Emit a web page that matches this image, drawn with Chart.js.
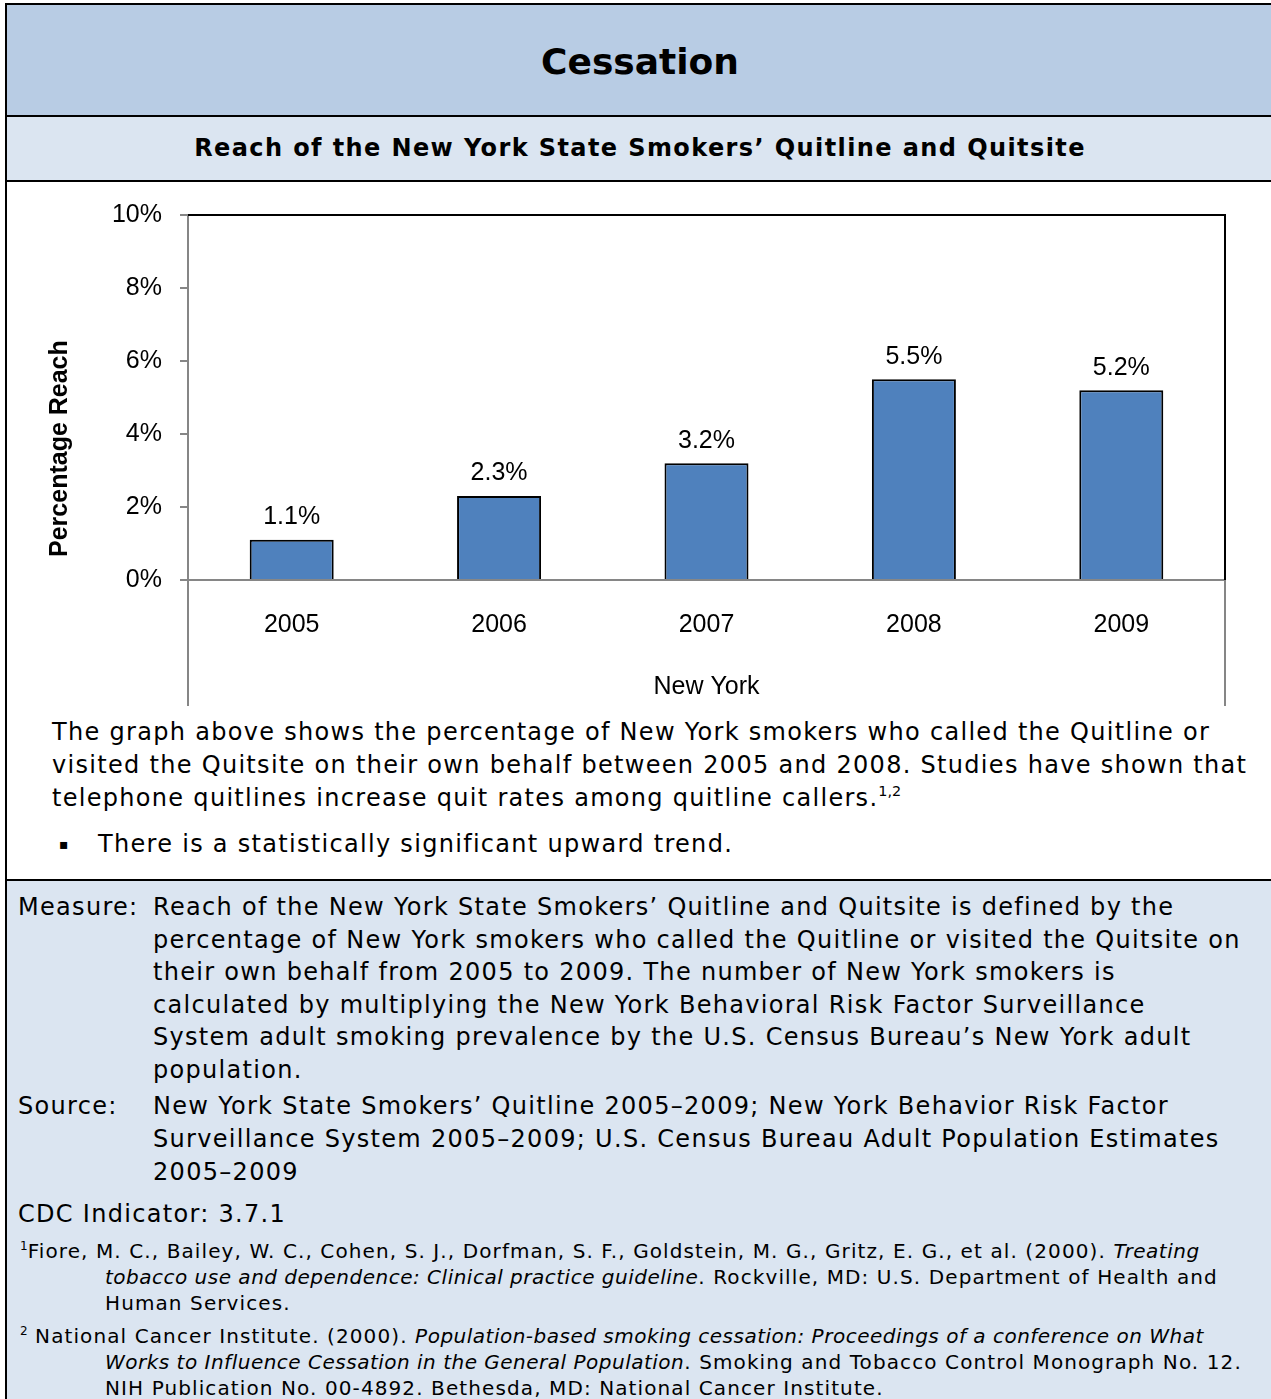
<!DOCTYPE html>
<html>
<head>
<meta charset="utf-8">
<script src="https://cdn.jsdelivr.net/npm/chart.js@4.4.1/dist/chart.umd.min.js"></script>
<style>
  body { margin: 0; width: 1271px; height: 1399px; overflow: hidden; background: #fff; position: relative; font-family: "DejaVu Sans", Verdana, sans-serif; color: #000; }
  .band { position: absolute; left: 5px; width: 1300px; border-left: 2px solid #000; border-top: 2px solid #000; }
  .txt { position: absolute; white-space: nowrap; }
  .body24 { font-size: 24px; line-height: 33px; letter-spacing: 1.3px; }
  .fn { font-size: 20px; line-height: 26px; letter-spacing: 1.1px; }
  .fn i { letter-spacing: 0.5px; }
  sup { font-size: 60%; line-height: 0; vertical-align: 0.7em; letter-spacing: 0; }
  #chartBox { position: absolute; left: 0; top: 182px; width: 1271px; height: 524px; }
</style>
</head>
<body>
<div class="band" style="top:3px;height:110px;background:#b8cce4;"></div>
<div class="band" style="top:115px;height:63px;background:#dbe5f1;"></div>
<div class="band" style="top:180px;height:697px;background:#fff;"></div>
<div class="band" style="top:879px;height:600px;background:#dbe5f1;"></div>

<div class="txt" style="left:0;width:1280px;text-align:center;top:40px;font-size:36px;font-weight:bold;line-height:44px;">Cessation</div>
<div class="txt" style="left:0;width:1280px;text-align:center;top:133px;font-size:24px;letter-spacing:1.4px;font-weight:bold;line-height:30px;">Reach of the New York State Smokers’ Quitline and Quitsite</div>

<div id="chartBox"><canvas id="myChart" width="1271" height="524"></canvas></div>

<div class="txt body24" style="left:52px;top:716px;">The graph above shows the percentage of New York smokers who called the Quitline or<br>visited the Quitsite on their own behalf between 2005 and 2008. Studies have shown that<br>telephone quitlines increase quit rates among quitline callers.<sup>1,2</sup></div>
<div class="txt body24" style="left:59px;top:828px;font-size:14px;">&#9642;</div>
<div class="txt body24" style="left:98px;top:828px;">There is a statistically significant upward trend.</div>

<div class="txt body24" style="left:18px;top:891px;">Measure:</div>
<div class="txt body24" style="left:153px;top:891px;line-height:32.5px;">Reach of the New York State Smokers’ Quitline and Quitsite is defined by the<br>percentage of New York smokers who called the Quitline or visited the Quitsite on<br>their own behalf from 2005 to 2009. The number of New York smokers is<br>calculated by multiplying the New York Behavioral Risk Factor Surveillance<br>System adult smoking prevalence by the U.S. Census Bureau’s New York adult<br>population.</div>
<div class="txt body24" style="left:18px;top:1090px;">Source:</div>
<div class="txt body24" style="left:153px;top:1090px;">New York State Smokers’ Quitline 2005–2009; New York Behavior Risk Factor<br>Surveillance System 2005–2009; U.S. Census Bureau Adult Population Estimates<br>2005–2009</div>
<div class="txt body24" style="left:18px;top:1198px;">CDC Indicator: 3.7.1</div>

<div class="txt fn" style="left:20px;top:1238px;"><sup>1</sup>Fiore, M. C., Bailey, W. C., Cohen, S. J., Dorfman, S. F., Goldstein, M. G., Gritz, E. G., et al. (2000). <i>Treating</i></div>
<div class="txt fn" style="left:105px;top:1264px;"><i>tobacco use and dependence: Clinical practice guideline</i>. Rockville, MD: U.S. Department of Health and<br>Human Services.</div>
<div class="txt fn" style="left:20px;top:1323px;"><sup>2</sup> National Cancer Institute. (2000). <i>Population-based smoking cessation: Proceedings of a conference on What</i></div>
<div class="txt fn" style="left:105px;top:1349px;"><i>Works to Influence Cessation in the General Population</i>. Smoking and Tobacco Control Monograph No. 12.<br>NIH Publication No. 00-4892. Bethesda, MD: National Cancer Institute.</div>

<script>
const years = ["2005", "2006", "2007", "2008", "2009"];
const reach = [1.1, 2.3, 3.2, 5.5, 5.2];
const yMin = 0;
const yMax = 10;
const yStep = 2;
const xTitle = "New York";
const yTitle = "Percentage Reach";

const chartFont = "'Liberation Sans', Arial, sans-serif";

// frame lines, y title and value labels
const decorations = {
    id: "decorations",
    afterDraw(chart) {
        const ctx = chart.ctx;
        const area = chart.chartArea;
        ctx.save();
        ctx.strokeStyle = "#000";
        ctx.lineWidth = 2;
        ctx.beginPath();
        ctx.moveTo(area.left, area.top);
        ctx.lineTo(area.right, area.top);
        ctx.lineTo(area.right, area.bottom);
        ctx.stroke();

        ctx.strokeStyle = "#868686";
        ctx.beginPath();
        ctx.moveTo(area.left, area.bottom);
        ctx.lineTo(area.left, chart.height);
        ctx.moveTo(area.right, area.bottom);
        ctx.lineTo(area.right, chart.height);
        ctx.stroke();

        ctx.fillStyle = "#000";
        ctx.font = "25px " + chartFont;
        ctx.textAlign = "center";
        ctx.textBaseline = "bottom";
        const meta = chart.getDatasetMeta(0);
        meta.data.forEach((bar, i) => {
            ctx.fillText(reach[i].toFixed(1) + "%", bar.x, bar.y - 10);
        });

        // y title sits a little below the middle of the axis, as in the original
        const yScale = chart.scales.y;
        ctx.font = "bold 25px " + chartFont;
        ctx.translate(60, yScale.getPixelForValue(3.6));
        ctx.rotate(-Math.PI / 2);
        ctx.textBaseline = "middle";
        ctx.fillText(yTitle, 0, 0);
        ctx.restore();
    }
};

new Chart(document.getElementById("myChart").getContext("2d"), {
    type: "bar",
    data: {
        labels: years,
        datasets: [
            {
                label: "Reach",
                data: reach,
                backgroundColor: "#4f81bd",
                borderColor: "#000",
                borderWidth: 2,
                barPercentage: 0.405,
                categoryPercentage: 1
            }
        ]
    },
    options: {
        responsive: false,
        animation: false,
        devicePixelRatio: 1,
        layout: { padding: { top: 30, right: 46, left: 0, bottom: 0 } },
        plugins: { legend: { display: false }, tooltip: { enabled: false } },
        scales: {
            x: {
                grid: { display: false, drawTicks: false },
                border: { color: "#868686", width: 2 },
                ticks: { color: "#000", font: { family: chartFont, size: 25 }, padding: 30 },
                title: { display: true, text: xTitle, color: "#000", font: { family: chartFont, size: 25 }, padding: { top: 0, bottom: 4 } },
                afterFit(scale) { scale.height = 126; }
            },
            y: {
                min: yMin,
                max: yMax,
                grid: { drawOnChartArea: false, tickLength: 8, color: "#868686", lineWidth: 2 },
                border: { color: "#868686", width: 2 },
                ticks: {
                    stepSize: yStep,
                    color: "#000",
                    padding: 18,
                    font: { family: chartFont, size: 25 },
                    callback: (v) => v + "%"
                },
                afterFit(scale) { scale.width = 188; }
            }
        }
    },
    plugins: [decorations]
});
</script>
</body>
</html>
